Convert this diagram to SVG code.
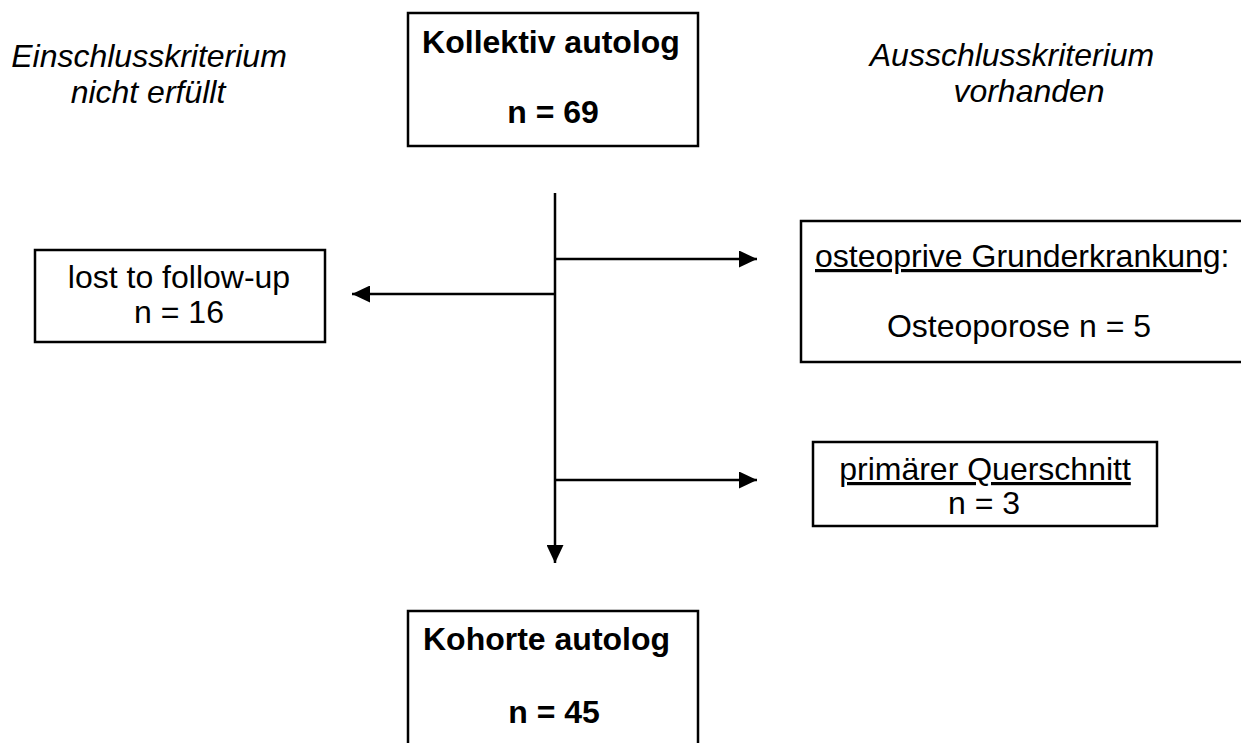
<svg xmlns="http://www.w3.org/2000/svg" width="1241" height="743" viewBox="0 0 1241 743">
<style>
text{font-family:"Liberation Sans",Arial,sans-serif;font-size:32px;fill:#000}
.b{font-weight:bold}
.i{font-style:italic}
.m{text-anchor:middle}
.box{fill:#fff;stroke:#000;stroke-width:2.5}
.ln{fill:none;stroke:#000;stroke-width:2.5}
.u{text-decoration:underline}
</style>
<defs>
<marker id="ah" markerUnits="userSpaceOnUse" markerWidth="19" markerHeight="17" refX="18" refY="8.5" orient="auto">
<path d="M0,0 L18,8.5 L0,17 Z" fill="#000"/>
</marker>
</defs>
<rect width="1241" height="743" fill="#fff"/>
<g id="label-einschluss">
<text class="i m" x="149" y="67">Einschlusskriterium</text>
<text class="i m" x="148" y="103">nicht erfüllt</text>
</g>
<g id="label-ausschluss">
<text class="i m" x="1012" y="66">Ausschlusskriterium</text>
<text class="i m" x="1029" y="102">vorhanden</text>
</g>
<g id="node-kollektiv">
<rect class="box" x="408" y="13" width="290" height="133"/>
<text class="b m" x="551" y="53">Kollektiv autolog</text>
<text class="b m" x="553" y="123">n = 69</text>
</g>
<g id="node-lost">
<rect class="box" x="35" y="250" width="290" height="92"/>
<text class="m" x="179" y="288">lost to follow-up</text>
<text class="m" x="179" y="323">n = 16</text>
</g>
<g id="node-osteo">
<rect class="box" x="801" y="221" width="445" height="141"/>
<text x="815" y="267"><tspan class="u">osteoprive Grunderkrankung</tspan>:</text>
<text class="m" x="1019" y="337">Osteoporose n = 5</text>
</g>
<g id="node-quer">
<rect class="box" x="813" y="442" width="344" height="84"/>
<text class="m" x="985" y="480"><tspan class="u">primärer Querschnitt</tspan></text>
<text class="m" x="984" y="514">n = 3</text>
</g>
<g id="node-kohorte">
<rect class="box" x="408" y="611" width="290" height="140"/>
<text class="b" x="423" y="650">Kohorte autolog</text>
<text class="b m" x="554" y="723">n = 45</text>
</g>
<g id="connectors">
<line class="ln" x1="555" y1="193" x2="555" y2="563" marker-end="url(#ah)"/>
<line class="ln" x1="555" y1="259" x2="757" y2="259" marker-end="url(#ah)"/>
<line class="ln" x1="555" y1="294" x2="352" y2="294" marker-end="url(#ah)"/>
<line class="ln" x1="555" y1="480" x2="757" y2="480" marker-end="url(#ah)"/>
</g>
</svg>
